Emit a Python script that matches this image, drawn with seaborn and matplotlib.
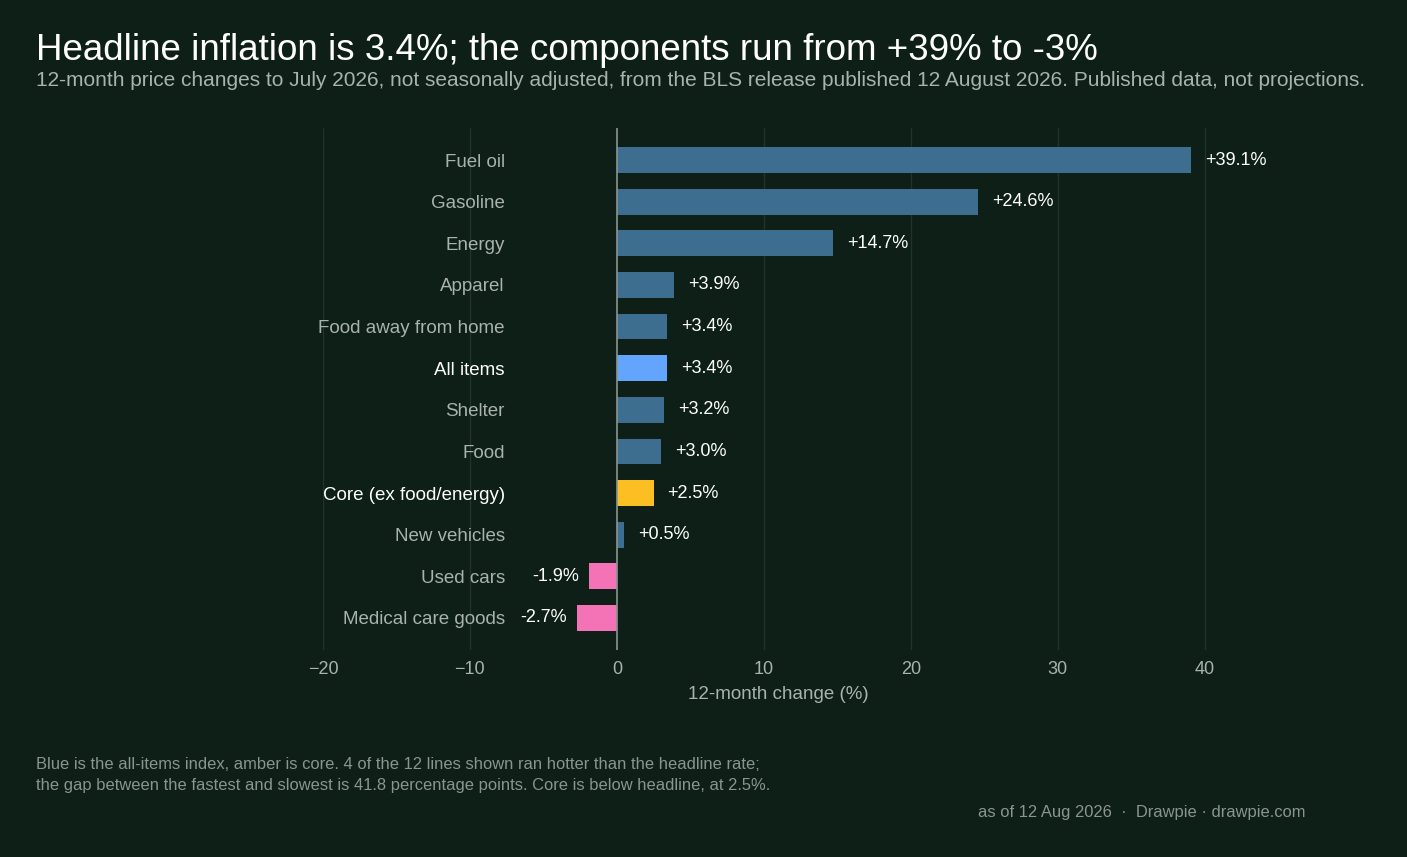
import matplotlib
matplotlib.use("Agg")
import matplotlib.pyplot as plt
import seaborn as sns
import pandas as pd

categories = ["Fuel oil", "Gasoline", "Energy", "Apparel", "Food away from home",
              "All items", "Shelter", "Food", "Core (ex food/energy)", "New vehicles",
              "Used cars", "Medical care goods"]
values = [39.1, 24.6, 14.7, 3.9, 3.4, 3.4, 3.2, 3.0, 2.5, 0.5, -1.9, -2.7]
x_ticks = [-20, -10, 0, 10, 20, 30, 40]

BG = "#0e1f18"
BAR = "#3d6e8f"
HEAD = "#63a4ff"
CORE = "#fbbf24"
NEG = "#f472b6"
MUTED = "#a9b3ae"

def bar_color(name, v):
    if name == "All items":
        return HEAD
    if name.startswith("Core"):
        return CORE
    return NEG if v < 0 else BAR

df = pd.DataFrame({"category": categories, "value": values})
palette = {c: bar_color(c, v) for c, v in zip(categories, values)}

sns.set_theme(style="dark")
plt.rcParams["font.family"] = ["Liberation Sans", "DejaVu Sans"]

fig = plt.figure(figsize=(14.07, 8.57), dpi=100, facecolor=BG)
ax = fig.add_axes([323 / 1407, 1 - 650 / 857, (1234 - 323) / 1407, (650 - 128) / 857])
ax.set_facecolor(BG)

sns.barplot(data=df, y="category", x="value", hue="category", palette=palette,
            legend=False, width=0.62, ax=ax, saturation=1, edgecolor="none", linewidth=0)

ax.set_xlim(-20, 42)
ax.set_ylim(11.5 + 0.27, -0.5 - 0.27)
ax.set_xticks(x_ticks)
ax.set_xticklabels([str(t).replace("-", "\u2212") for t in x_ticks])
for t in x_ticks:
    if t != 0:
        ax.axvline(t, color="#22332b", lw=1, zorder=0)
ax.axvline(0, color="#8a958f", lw=1.2, zorder=3)
for s in ax.spines.values():
    s.set_visible(False)
ax.tick_params(axis="x", colors=MUTED, labelsize=13, length=0, pad=8)
# labels sit inside the axes, right-aligned at x ~ -7.7
ax.tick_params(axis="y", length=0, labelsize=13.5, pad=-131)
for lbl in ax.get_yticklabels():
    txt = lbl.get_text()
    lbl.set_color("white" if txt in ("All items", "Core (ex food/energy)") else MUTED)
ax.set_ylabel("")
ax.set_xlabel("12-month change (%)", color=MUTED, fontsize=13.5, labelpad=6)

for i, v in enumerate(values):
    label = f"{v:+.1f}%"
    if v >= 0:
        ax.text(v + 0.95, i, label, va="center", ha="left", color="white", fontsize=13)
    else:
        ax.text(v - 0.7, i, label, va="center", ha="right", color="white", fontsize=13)

fig.text(36 / 1407, 1 - 50 / 857, "Headline inflation is 3.4%; the components run from +39% to -3%",
         color="white", fontsize=26.5, va="center")
fig.text(36 / 1407, 1 - 80 / 857,
         "12-month price changes to July 2026, not seasonally adjusted, from the BLS release published 12 August 2026. Published data, not projections.",
         color=MUTED, fontsize=15, va="center")
fig.text(36 / 1407, 1 - 775 / 857,
         "Blue is the all-items index, amber is core. 4 of the 12 lines shown ran hotter than the headline rate;\n"
         "the gap between the fastest and slowest is 41.8 percentage points. Core is below headline, at 2.5%.",
         color="#8a958f", fontsize=11.9, va="center", linespacing=1.5)
fig.text(1306 / 1407, 1 - 813 / 857, "as of 12 Aug 2026  \u00b7  Drawpie \u00b7 drawpie.com",
         color="#8a958f", fontsize=11.9, va="center", ha="right")

fig.savefig("out.png", dpi=100, facecolor=BG)
